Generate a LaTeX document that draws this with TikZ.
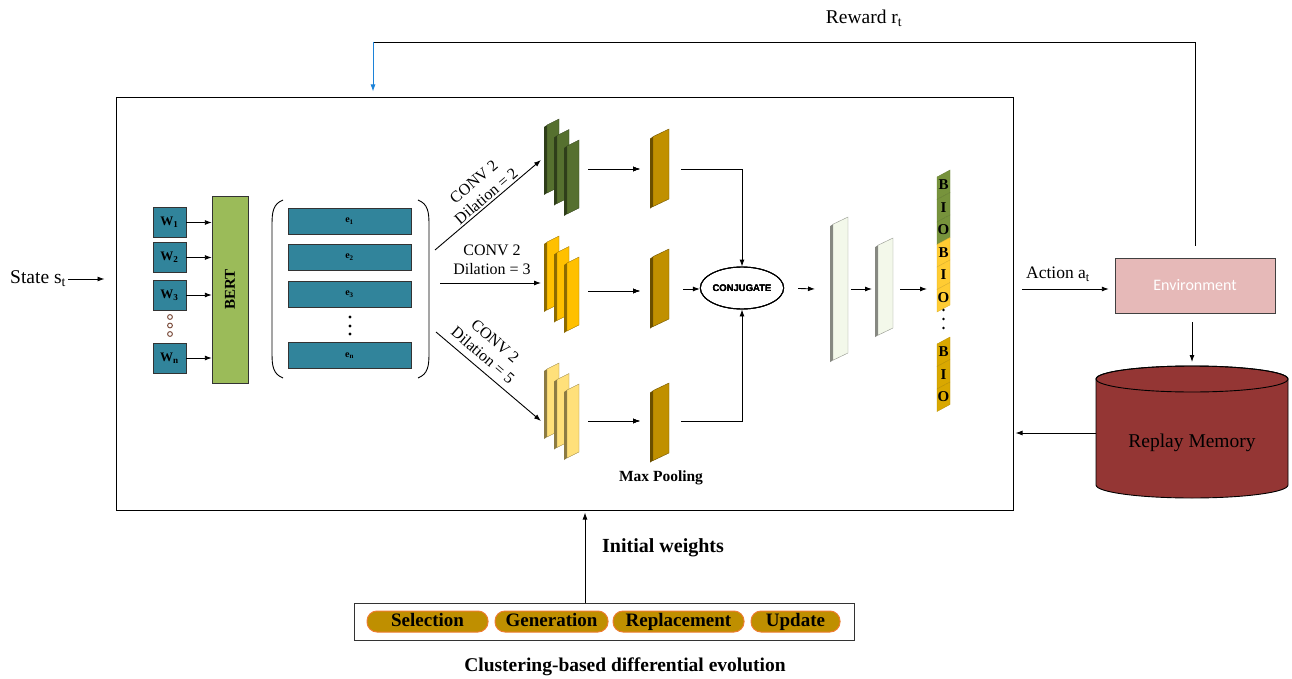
\documentclass[tikz,border=0pt]{standalone}
\usepackage{fontspec}
\setmainfont{Liberation Serif}
\setsansfont{Liberation Sans}
\newfontfamily\calibrifont{Carlito}
\usetikzlibrary{arrows.meta,positioning,shapes.geometric}

\newcommand{\fmap}[5]{%
  \fill[#5!55!black] (#1,#2+0.4*#3+2) -- (#1+3,#2+0.4*#3) -- (#1+3,#2+0.4*#3+#4) -- (#1,#2+0.4*#3+#4+2) -- cycle;
  \filldraw[fill=#5,draw=#5!60!black,line width=0.4pt] (#1+3,#2+0.4*#3) -- (#1+#3,#2) -- (#1+#3,#2+#4) -- (#1+3,#2+0.4*#3+#4) -- cycle;
}

\begin{document}
\begin{tikzpicture}[x=1pt,y=-1pt,
    arr/.style={-{Latex[length=7pt,width=5pt]},line width=0.9pt},
    wtok/.style={draw=black!80,fill=tokteal,minimum width=33pt,minimum height=30pt,inner sep=0pt,
      font=\fontsize{13}{13}\selectfont\bfseries},
    etok/.style={draw=black!80,fill=tokteal,minimum width=123pt,minimum height=26pt,inner sep=0pt,
      font=\fontsize{10}{10}\selectfont\bfseries},
    pill/.style={draw=pillrim,fill=pillgold,line width=1pt,rounded corners=10pt,minimum height=21pt,
      inner sep=0pt,text height=13pt,text depth=4pt,font=\fontsize{19}{19}\selectfont\bfseries},
    convlbl/.style={align=center,inner sep=0pt,font=\fontsize{16}{19}\selectfont}]
  \definecolor{tokteal}{HTML}{31849B}
  \definecolor{bertgreen}{HTML}{9BBB59}
  \definecolor{cgreen}{HTML}{56702F}
  \definecolor{cyellow}{HTML}{FFC000}
  \definecolor{cpale}{HTML}{FFE07A}
  \definecolor{cpool}{HTML}{C09000}
  \definecolor{clight}{HTML}{F3F8EA}
  \definecolor{biogreen}{HTML}{77933C}
  \definecolor{bioyellow}{HTML}{FFCC33}
  \definecolor{biogold}{HTML}{D9A800}
  \definecolor{pillgold}{HTML}{BF8F00}
  \definecolor{pillrim}{HTML}{ED7D31}
  \definecolor{envpink}{HTML}{E6B9B8}
  \definecolor{memred}{HTML}{943634}
  \definecolor{rwblue}{HTML}{1C82D8}
  \definecolor{dotbrown}{HTML}{7A4A3A}

  \useasboundingbox (0,0) rectangle (1292,679);

  \node[draw,line width=1pt,minimum width=897pt,minimum height=412pt,inner sep=0pt] (frame) at (564.5,304) {};

  \node[anchor=west,inner sep=0pt,font=\fontsize{19.5}{19.5}\selectfont] (state) at (10,279) {State s\textsubscript{t}};
  \draw[arr] ([xshift=2pt]state.east) -- ([xshift=-11pt]frame.west |- state.east);

  \foreach \n/\y/\s in {w1/222.5/1, w2/257.5/2, w3/295/3, wn/358/n}
    \node[wtok] (\n) at (169.5,\y) {W\textsubscript{\s}};
  \foreach \y in {317,325.5,334}
    \draw[draw=dotbrown,fill=white,line width=1pt] (170,\y) circle[radius=2.4pt];
  \node[draw=black!80,fill=bertgreen,minimum width=36pt,minimum height=187pt,inner sep=0pt] (bert) at (230,289.5) {};
  \node[rotate=90,font=\fontsize{15}{15}\selectfont\bfseries] (berttxt) at (bert) {BERT};
  \foreach \n in {w1,w2,w3,wn}
    \draw[arr] (\n.east) -- (\n.east -| bert.west);

  \foreach \n/\y/\s in {e1/221/1, e2/257/2, e3/294/3, en/355.5/n}
    \node[etok] (\n) at (349.5,\y) {e\textsubscript{\s}};
  \foreach \y in {317,326,334}
    \fill (350,\y) circle[radius=1.6pt];
  \draw[line width=0.9pt] (283,200) .. controls (273,204) and (272,212) .. (272,225) -- (272,353)
    .. controls (272,366) and (273,374) .. (283,378);
  \draw[line width=0.9pt] (418,200) .. controls (428,204) and (429,212) .. (429,225) -- (429,353)
    .. controls (429,366) and (428,374) .. (418,378);

  \coordinate (c2s) at (435,250); \coordinate (c2e) at (541,160);
  \coordinate (c3s) at (440,283); \coordinate (c3e) at (541,283);
  \coordinate (c5s) at (436,332); \coordinate (c5e) at (541,421);
  \draw[arr] (c2s) -- (c2e);
  \draw[arr] (c3s) -- (c3e);
  \draw[arr] (c5s) -- (c5e);
  \node[convlbl,rotate=40.6] (l2) at (480,189) {CONV 2\\Dilation = 2};
  \node[convlbl] (l3) at (492,260) {CONV 2\\Dilation = 3};
  \node[convlbl,rotate=-40.6] (l5) at (489,348) {CONV 2\\Dilation = 5};

  \foreach \i in {0,1,2} {
    \fmap{544+10*\i}{119+10.5*\i}{15}{68}{cgreen}
    \fmap{544+10*\i}{236+10.5*\i}{15}{68}{cyellow}
    \fmap{544+10*\i}{363+10.5*\i}{15}{68}{cpale}
  }
  \foreach \y in {129,249,383}
    \fmap{650}{\y}{19}{70}{cpool}
  \foreach \r/\y in {g/169,y/291,p/421} {
    \coordinate (\r stk) at (588,\y);
    \coordinate (\r pool) at (640,\y);
    \draw[arr] (\r stk) -- (\r pool);
  }
  \node[draw,ellipse,line width=0.9pt,minimum width=75pt,minimum height=42pt,inner sep=0pt,
    font=\sffamily\bfseries\fontsize{9.5}{9.5}\selectfont] (conj) at (742,288) {CONJUGATE};
  \coordinate (gout) at (681,169);
  \coordinate (yout) at (683,289);
  \coordinate (pout) at (681,421);
  \draw[arr] (gout) -| (conj.north);
  \draw[arr] (yout) -- (yout -| conj.west);
  \draw[arr] (pout) -| (conj.south);

  \fmap{830}{217}{18}{136}{clight}
  \fmap{875}{238}{18}{90}{clight}
  \coordinate (l1in) at (815,289);
  \coordinate (l2out) at (851,289); \coordinate (l2in) at (872,289);
  \coordinate (l3out) at (900,289); \coordinate (l3in) at (927,289);
  \draw[arr,shorten <=14pt] (conj.east) -- (l1in);
  \draw[arr] (l2out) -- (l2in);
  \draw[arr] (l3out) -- (l3in);

  \foreach \y/\c/\t [count=\i] in {170/biogreen/B, 192.5/biogreen/I, 215/biogreen/O,
      237.5/bioyellow/B, 260/bioyellow/I, 282.5/bioyellow/O,
      337/biogold/B, 359.5/biogold/I, 382/biogold/O} {
    \filldraw[fill=\c,draw=\c!85!black,line width=0.3pt] (937,\y+7) -- (950,\y) -- (950,\y+22.5) -- (937,\y+29.5) -- cycle;
    \node[inner sep=0pt,font=\fontsize{15}{15}\selectfont\bfseries] (bio\i) at (943.5,\y+14.75) {\t};
  }
  \foreach \y in {310,319,328}
    \fill (943.5,\y) circle[radius=1.3pt];

  \node[draw=black!75,fill=envpink,minimum width=160pt,minimum height=55pt,inner sep=0pt,
    text=white,font=\calibrifont\fontsize{16}{16}\selectfont] (env) at (1195,285.5) {Environment};
  \node[inner sep=0pt,font=\fontsize{17.5}{17.5}\selectfont] (act) at (1058,274) {Action a\textsubscript{t}};
  \coordinate (actout) at (1022,289);
  \draw[arr,shorten >=6pt] (actout) -- (env.west |- actout);

  \coordinate (rwr) at (1195,42);
  \coordinate (rwl) at (373,42);
  \draw[line width=0.9pt] ([yshift=12pt]env.north) -- (rwr) -- (rwl);
  \draw[-{Latex[length=7pt,width=5pt]},line width=0.9pt,rwblue] (rwl) -- ([yshift=6pt]frame.north -| rwl);
  \node[inner sep=0pt,font=\fontsize{19.5}{19.5}\selectfont] (rw) at (864,18) {Reward r\textsubscript{t}};

  \filldraw[fill=memred,draw=black,line width=0.9pt] (1096,379) -- (1096,485)
    arc[start angle=180,end angle=360,x radius=96pt,y radius=13pt] -- (1288,379)
    arc[start angle=0,end angle=180,x radius=96pt,y radius=13pt] -- cycle;
  \draw[line width=0.9pt] (1192,379) ellipse[x radius=96pt,y radius=13pt];
  \node[inner sep=0pt,font=\fontsize{19.5}{19.5}\selectfont] (mem) at (1192,443) {Replay Memory};
  \coordinate (memtop) at (1192,366);
  \coordinate (memleft) at (1096,433);
  \draw[arr] ([yshift=-9pt]env.south -| memtop) -- ([yshift=4pt]memtop);
  \draw[arr] (memleft) -- ([xshift=2pt]memleft -| frame.east);

  \node[inner sep=0pt,font=\fontsize{15.5}{15.5}\selectfont\bfseries] (mp) at (661,478) {Max Pooling};

  \node[draw=black!80,line width=1pt,minimum width=500pt,minimum height=37pt,inner sep=0pt] (debox) at (604,621.5) {};
  \foreach \n/\x/\w/\t in {sel/427.5/121/Selection, gen/551.5/113/Generation,
      rep/678.5/131/Replacement, upd/795.5/89/Update}
    \node[pill,minimum width=\w pt] (\n) at (\x,621.5) {\t};
  \coordinate (iw) at (585,560);
  \draw[arr] (debox.north -| iw) -- ([yshift=-2pt]frame.south -| iw);
  \node[anchor=west,inner sep=0pt,font=\fontsize{20}{20}\selectfont\bfseries] (iwt) at (602,548) {Initial weights};

  \node[inner sep=0pt,font=\fontsize{19.5}{19.5}\selectfont\bfseries] (cap) at (625,667) {Clustering-based differential evolution};
\end{tikzpicture}
\end{document}
